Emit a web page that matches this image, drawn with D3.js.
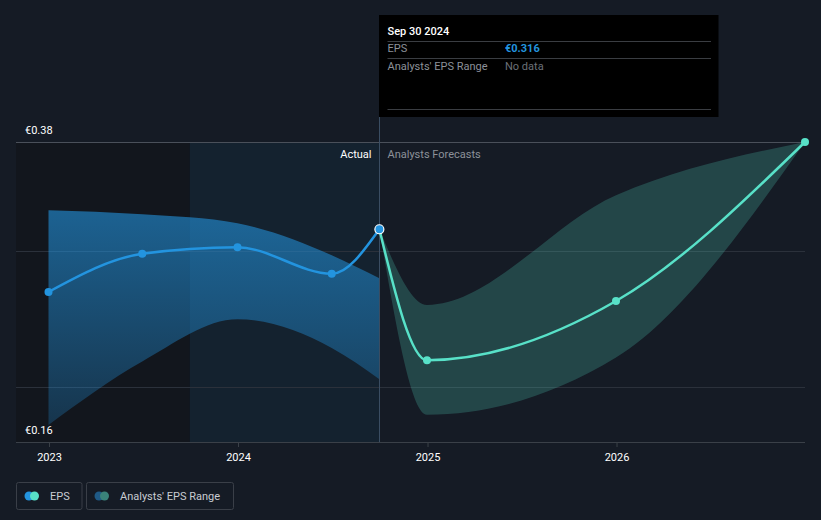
<!DOCTYPE html>
<html>
<head>
<meta charset="utf-8">
<script src="https://cdn.jsdelivr.net/npm/d3@7"></script>
<style>
  html, body { margin: 0; padding: 0; background: #151b25; }
  svg { display: block; font-family: Roboto, "Noto Sans", sans-serif; }
</style>
</head>
<body>
<svg id="chart" width="821" height="520"></svg>
<script>
// ---- data ----
const actualDates = ["2022-12-31", "2023-06-30", "2023-12-31", "2024-06-30", "2024-09-30"];
const actualEps = [0.270, 0.298, 0.3028, 0.2834, 0.316];
const actualRangeHigh = [0.330, 0.327, 0.3204, 0.297, 0.280];
const actualRangeLow = [0.1725, 0.219, 0.250, 0.229, 0.206];

const forecastDates = ["2024-09-30", "2024-12-31", "2025-12-31", "2026-12-31"];
const forecastEps = [0.316, 0.220, 0.2634, 0.380];
const forecastHigh = [0.316, 0.2605, 0.341, 0.380];
const forecastLow = [0.316, 0.180, 0.222, 0.380];

const yTickValues = [0.16, 0.20, 0.30, 0.38];
const yLabelValues = [0.38, 0.16];
const xTickYears = ["2023", "2024", "2025", "2026"];
const highlightStart = "2023-09-30";
const tooltipDate = "Sep 30 2024";
const tooltipEps = "€0.316";

(function () {
const parse = d3.timeParse("%Y-%m-%d");
const svg = d3.select("#chart");
const W = 821, H = 520;
const pLeft = 16, pRight = 805, pTop = 142, pBottom = 442;

const x = d3.scaleTime()
  .domain([parse("2022-12-31"), parse("2026-12-31")])
  .range([48.5, 805]);
const y = d3.scaleLinear().domain([0.16, 0.38]).range([pBottom, pTop]);

const actual = actualDates.map((d, i) => ({ date: parse(d), v: actualEps[i], hi: actualRangeHigh[i], lo: actualRangeLow[i] }));
const forecast = forecastDates.map((d, i) => ({ date: parse(d), v: forecastEps[i], hi: forecastHigh[i], lo: forecastLow[i] }));
const splitX = Math.round(x(parse("2024-09-30"))) + 0.5;

const defs = svg.append("defs");
const grad = defs.append("linearGradient").attr("id", "blueGrad")
  .attr("gradientUnits", "userSpaceOnUse")
  .attr("x1", 0).attr("x2", 0).attr("y1", 200).attr("y2", 440);
grad.append("stop").attr("offset", 0).attr("stop-color", "#2394df").attr("stop-opacity", 0.62);
grad.append("stop").attr("offset", 1).attr("stop-color", "#2394df").attr("stop-opacity", 0.22);

// backgrounds
svg.append("rect").attr("x", 0).attr("y", 0).attr("width", W).attr("height", H).attr("fill", "#151b25");
const hx = x(parse(highlightStart));
svg.append("rect").attr("x", pLeft).attr("y", pTop).attr("width", hx - pLeft)
  .attr("height", pBottom - pTop).attr("fill", "#12161d");
svg.append("rect").attr("x", hx).attr("y", pTop)
  .attr("width", splitX - hx).attr("height", pBottom - pTop).attr("fill", "#14222f");

// gridlines
svg.append("g").selectAll("line").data(yTickValues).join("line")
  .attr("x1", pLeft).attr("x2", pRight)
  .attr("y1", d => Math.round(y(d)) + 0.5).attr("y2", d => Math.round(y(d)) + 0.5)
  .attr("stroke", d => d === 0.38 ? "#4a505a" : (d === 0.16 ? "#3a4048" : "#2b313b"))
  .attr("stroke-width", 1);

// x axis ticks
const xAxis = d3.axisBottom(x)
  .tickValues(xTickYears.map(yr => parse(yr + "-01-01")))
  .tickFormat(d3.timeFormat("%Y"))
  .tickSize(5).tickPadding(6);
const gx = svg.append("g").attr("transform", `translate(0,${pBottom})`).call(xAxis);
gx.select(".domain").remove();
gx.selectAll(".tick line").attr("stroke", "#3a4048");
gx.selectAll(".tick text").attr("fill", "#ffffff").attr("font-size", 11)
  .attr("font-family", "Roboto, sans-serif");

// y labels
svg.append("g").selectAll("text").data(yLabelValues).join("text")
  .attr("x", 25).attr("y", d => y(d) - 8)
  .attr("fill", "#ffffff").attr("font-size", 11)
  .text(d => "€" + d3.format(".2f")(d));

const curve = d3.curveMonotoneX;

// actual range band
svg.append("path").datum(actual)
  .attr("d", d3.area().curve(curve).x(d => x(d.date)).y0(d => y(d.lo)).y1(d => y(d.hi)))
  .attr("fill", "url(#blueGrad)");

// forecast band
svg.append("path").datum(forecast)
  .attr("d", d3.area().curve(curve).x(d => x(d.date)).y0(d => y(d.lo)).y1(d => y(d.hi)))
  .attr("fill", "#58e1c8").attr("fill-opacity", 0.22);

// split line
svg.append("line").attr("x1", splitX).attr("x2", splitX).attr("y1", 117).attr("y2", pBottom)
  .attr("stroke", "#3a4d62").attr("stroke-width", 1);

// lines
svg.append("path").datum(actual)
  .attr("d", d3.line().curve(curve).x(d => x(d.date)).y(d => y(d.v)))
  .attr("fill", "none").attr("stroke", "#2394df").attr("stroke-width", 2.5);
svg.append("path").datum(forecast)
  .attr("d", d3.line().curve(curve).x(d => x(d.date)).y(d => y(d.v)))
  .attr("fill", "none").attr("stroke", "#58e1c8").attr("stroke-width", 2.5);

// points
svg.append("g").selectAll("circle").data(actual.slice(0, -1)).join("circle")
  .attr("cx", d => x(d.date)).attr("cy", d => y(d.v)).attr("r", 4).attr("fill", "#2394df");
svg.append("g").selectAll("circle").data(forecast.slice(1)).join("circle")
  .attr("cx", d => x(d.date)).attr("cy", d => y(d.v)).attr("r", 4).attr("fill", "#58e1c8");
const last = actual[actual.length - 1];
svg.append("circle").attr("cx", x(last.date)).attr("cy", y(last.v)).attr("r", 4.5)
  .attr("fill", "#2394df").attr("stroke", "#ffffff").attr("stroke-width", 1.2);

// labels Actual / Analysts Forecasts
svg.append("text").attr("x", splitX - 8).attr("y", y(0.38) + 16).attr("text-anchor", "end")
  .attr("fill", "#ffffff").attr("font-size", 11).text("Actual");
svg.append("text").attr("x", splitX + 8).attr("y", y(0.38) + 16)
  .attr("fill", "#8c9199").attr("font-size", 11).text("Analysts Forecasts");

// tooltip
const tt = svg.append("g");
tt.append("rect").attr("x", splitX - 0.5).attr("y", 15).attr("width", 719 - splitX).attr("height", 102).attr("fill", "#000000");
tt.append("text").attr("x", splitX + 8).attr("y", 35).attr("fill", "#ffffff").attr("font-size", 11)
  .attr("font-weight", 500).text(tooltipDate);
[41, 58, 109].forEach(yy => tt.append("line").attr("x1", splitX + 8).attr("x2", 711)
  .attr("y1", yy + 0.5).attr("y2", yy + 0.5).attr("stroke", "#3a3d42").attr("stroke-width", 1));
tt.append("text").attr("x", splitX + 8).attr("y", 52).attr("fill", "#8c9199").attr("font-size", 11).text("EPS");
tt.append("text").attr("x", 505).attr("y", 52).attr("fill", "#2394df").attr("font-size", 11)
  .attr("font-weight", 700).text(tooltipEps);
tt.append("text").attr("x", splitX + 8).attr("y", 70).attr("fill", "#8c9199").attr("font-size", 11).text("Analysts' EPS Range");
tt.append("text").attr("x", 505).attr("y", 70).attr("fill", "#6b7078").attr("font-size", 11).text("No data");

// legend
const legendItems = [
  { label: "EPS", x: 16, w: 65.5, c1: "#2394df", c2: "#58e1c8" },
  { label: "Analysts' EPS Range", x: 86, w: 147, c1: "#1f5a86", c2: "#3a827a" }
];
const lg = svg.append("g").selectAll("g").data(legendItems).join("g")
  .attr("transform", d => `translate(${d.x},482)`);
lg.append("rect").attr("x", 0.5).attr("y", 0.5).attr("width", d => d.w).attr("height", 27).attr("rx", 2)
  .attr("fill", "none").attr("stroke", "#3a3f48");
lg.append("circle").attr("cx", 13).attr("cy", 14).attr("r", 4.5).attr("fill", d => d.c1);
lg.append("circle").attr("cx", 18.5).attr("cy", 14).attr("r", 4.5).attr("fill", d => d.c2);
lg.append("text").attr("x", 34).attr("y", 18).attr("fill", "#c8ccd2").attr("font-size", 11).text(d => d.label);
})();
</script>
</body>
</html>
